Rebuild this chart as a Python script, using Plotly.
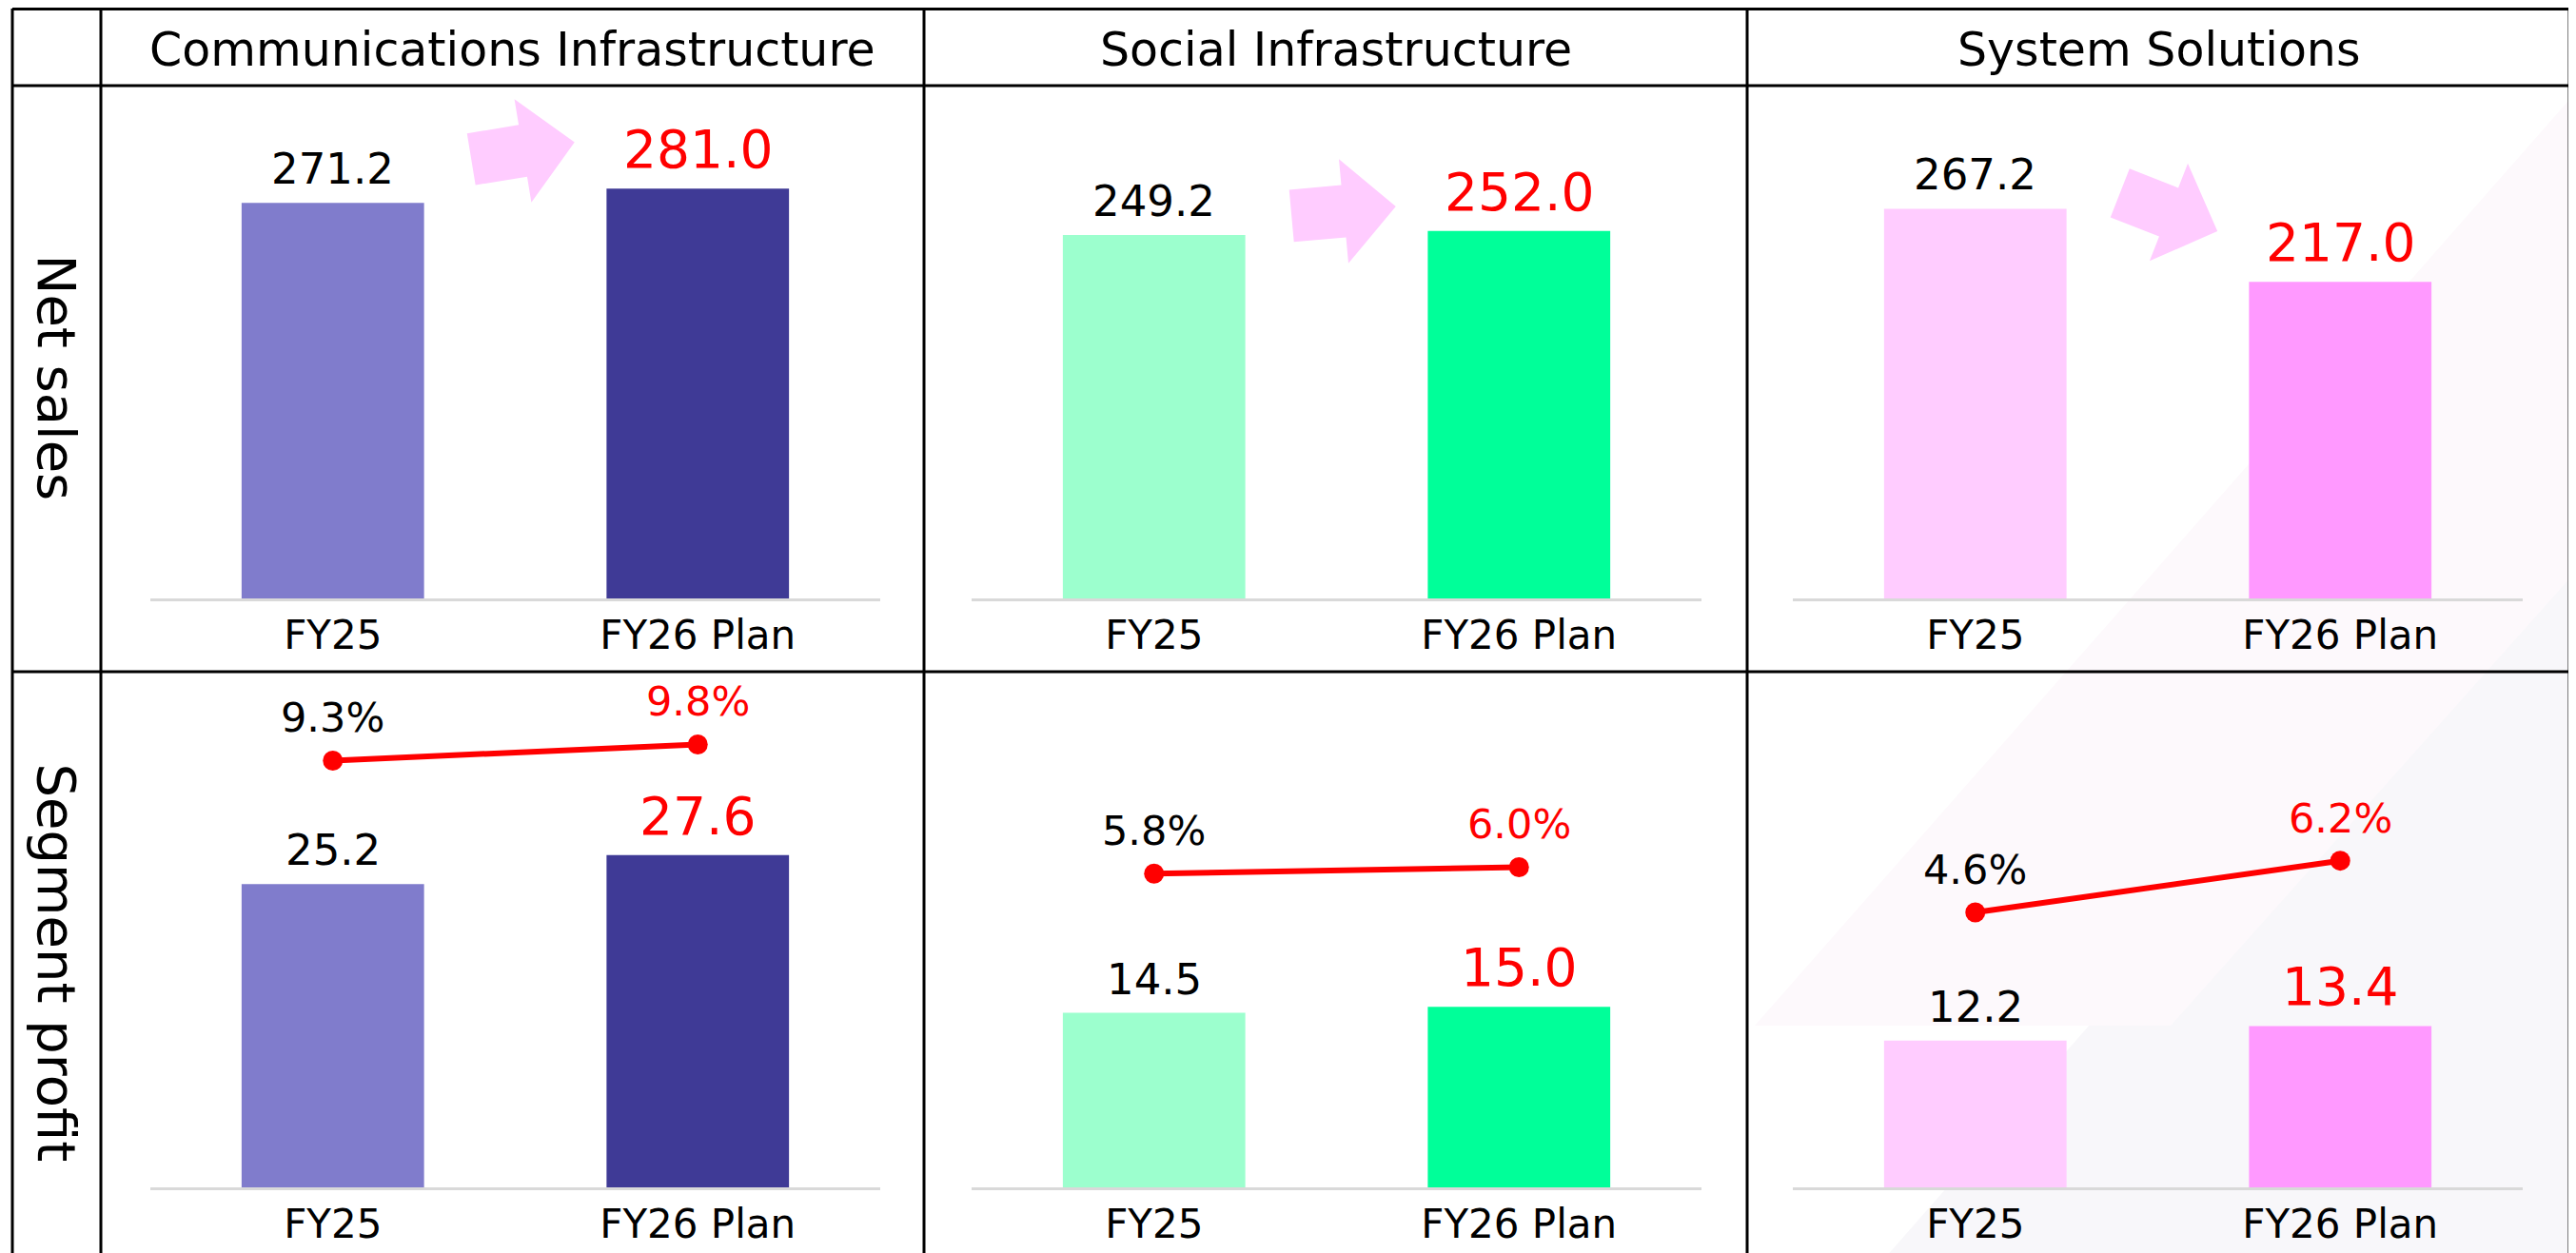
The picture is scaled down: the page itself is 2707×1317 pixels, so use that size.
import math
import plotly.graph_objects as go

# ---------------- data ----------------
segments = ["Communications Infrastructure", "Social Infrastructure", "System Solutions"]
periods = ["FY25", "FY26 Plan"]
row_labels = ["Net sales", "Segment profit"]

net_sales_comm = [271.2, 281.0]
net_sales_social = [249.2, 252.0]
net_sales_system = [267.2, 217.0]

profit_comm = [25.2, 27.6]
profit_social = [14.5, 15.0]
profit_system = [12.2, 13.4]

margin_comm = [9.3, 9.8]
margin_social = [5.8, 6.0]
margin_system = [4.6, 6.2]

net_sales = [net_sales_comm, net_sales_social, net_sales_system]
profits = [profit_comm, profit_social, profit_system]
margins = [margin_comm, margin_social, margin_system]

# ---------------- style ----------------
W, H = 2707, 1317
OFF = 8  # page body margin of the host page
FONT = "DejaVu Sans"
RED = "#FF0000"
bar_colors = [["#807CCC", "#3F3A96"], ["#9CFFCE", "#00FF99"], ["#FFCCFF", "#FF99FF"]]
label_colors = ["black", RED]
label_sizes = [45, 55]
ARROW_COLOR = "#FFCCFF"


def px(x):
    return (x - OFF) / W


def py(y):
    return 1 - (y - OFF) / H


col_lines = [13, 106, 971, 1836, 2700]
row_lines = [9, 90, 706]
plot_x_px = [(158, 925), (1021, 1788), (1884, 2651)]
ns_y_px = (100, 629)
sp_y_px = (720, 1248)
NS_RANGE = [0, (ns_y_px[1] - ns_y_px[0]) / 1.533]
SP_RANGE = [0, (sp_y_px[1] - sp_y_px[0]) / 12.65]
PCT_RANGE = [-132.9 / 33.94, (sp_y_px[1] - sp_y_px[0] - 132.9) / 33.94]

# arrows: center (px), angle (deg, clockwise positive)
arrows = [(549.5, 158.5, -9.3), (1412, 222, -5.2), (2279, 223, 21.4)]


def ax_name(n, kind):
    return kind if n == 1 else f"{kind}{n}"


def layout_name(n, kind):
    return f"{kind}axis" if n == 1 else f"{kind}axis{n}"


fig = go.Figure()
layout_axes = {}
annotations = []

for i in range(3):
    xd = [px(plot_x_px[i][0]), px(plot_x_px[i][1])]
    for r, (vals, ydom, yr) in enumerate([(net_sales[i], ns_y_px, NS_RANGE),
                                          (profits[i], sp_y_px, SP_RANGE)]):
        n = i + 1 + 3 * r
        xa, ya = ax_name(n, "x"), ax_name(n, "y")
        fig.add_trace(go.Bar(
            x=periods, y=vals, xaxis=xa, yaxis=ya, width=0.5,
            marker=dict(color=bar_colors[i], line=dict(width=0)),
            hoverinfo="skip", showlegend=False))
        layout_axes[layout_name(n, "x")] = dict(
            domain=xd, anchor=ya, type="category", range=[-0.5, 1.5],
            showline=True, linecolor="#D9D9D9", linewidth=3,
            showgrid=False, zeroline=False, ticks="",
            tickfont=dict(family=FONT, size=42, color="black"), fixedrange=True)
        layout_axes[layout_name(n, "y")] = dict(
            domain=[py(ydom[1]), py(ydom[0])], anchor=xa, range=yr,
            visible=False, showgrid=False, zeroline=False, fixedrange=True)
        for j, v in enumerate(vals):
            annotations.append(dict(
                x=periods[j], y=v, xref=xa, yref=ya, text=f"{v:.1f}",
                showarrow=False, xanchor="center", yanchor="bottom", yshift=7,
                font=dict(family=FONT, size=label_sizes[j], color=label_colors[j])))

    # margin line on secondary axis of segment-profit panel
    n2 = 7 + i
    xa, ya2 = ax_name(4 + i, "x"), ax_name(n2, "y")
    fig.add_trace(go.Scatter(
        x=periods, y=margins[i], xaxis=xa, yaxis=ya2, mode="lines+markers",
        line=dict(color=RED, width=6), marker=dict(color=RED, size=21),
        hoverinfo="skip", showlegend=False))
    layout_axes[layout_name(n2, "y")] = dict(
        overlaying=ax_name(4 + i, "y"), anchor=xa, range=PCT_RANGE,
        visible=False, showgrid=False, zeroline=False, fixedrange=True)
    for j, v in enumerate(margins[i]):
        annotations.append(dict(
            x=periods[j], y=v, xref=xa, yref=ya2, text=f"{v:.1f}%",
            showarrow=False, xanchor="center", yanchor="bottom", yshift=18,
            font=dict(family=FONT, size=43, color=label_colors[j])))

# column headers
for i, s in enumerate(segments):
    annotations.append(dict(
        x=px((col_lines[i + 1] + col_lines[i + 2]) / 2), y=py(52), xref="paper", yref="paper",
        text=s, showarrow=False, xanchor="center", yanchor="middle",
        font=dict(family=FONT, size=49, color="black")))

# row labels
for r, (lab, yc) in enumerate(zip(row_labels, [397, 1012])):
    annotations.append(dict(
        x=px(59.5), y=py(yc), xref="paper", yref="paper", text=lab, textangle=90,
        showarrow=False, xanchor="center", yanchor="middle",
        font=dict(family=FONT, size=56, color="black")))

shapes = []
# faint decorative background bands
shapes.append(dict(type="path", xref="paper", yref="paper", layer="below",
                   path=f"M {px(1974)} {py(1330)} L {px(2720)} {py(480)} L {px(2720)} {py(1330)} Z",
                   fillcolor="#F8F7FA", line=dict(width=0)))
shapes.append(dict(type="path", xref="paper", yref="paper", layer="below",
                   path=f"M {px(1844)} {py(1078)} L {px(2720)} {py(82)} L {px(2720)} {py(586)} L {px(2281)} {py(1078)} Z",
                   fillcolor="#FDF9FC", line=dict(width=0)))


def arrow_path(cx, cy, ang, L=110, shaft_h=55, head_h=110, shaft_len=55):
    x0 = -L / 2
    xs = x0 + shaft_len
    pts = [(x0, -shaft_h / 2), (xs, -shaft_h / 2), (xs, -head_h / 2), (L / 2, 0),
           (xs, head_h / 2), (xs, shaft_h / 2), (x0, shaft_h / 2)]
    a = math.radians(ang)
    ca, sa = math.cos(a), math.sin(a)
    out = []
    for k, (x, y) in enumerate(pts):
        X = cx + x * ca - y * sa
        Y = cy + x * sa + y * ca
        out.append(("M" if k == 0 else "L") + f" {px(X):.5f} {py(Y):.5f}")
    return " ".join(out) + " Z"


for cx, cy, ang in arrows:
    shapes.append(dict(type="path", xref="paper", yref="paper", layer="above",
                       path=arrow_path(cx, cy, ang), fillcolor=ARROW_COLOR, line=dict(width=0)))

# table grid
for k, yy in enumerate(row_lines):
    shapes.append(dict(type="line", xref="paper", yref="paper", layer="above",
                       x0=px(col_lines[0]), x1=px(col_lines[-1]), y0=py(yy), y1=py(yy),
                       line=dict(color="black", width=4 if k == 0 else 3)))
for xx in col_lines:
    shapes.append(dict(type="line", xref="paper", yref="paper", layer="above",
                       x0=px(xx), x1=px(xx), y0=py(row_lines[0]), y1=py(H + OFF + 10),
                       line=dict(color="black", width=3)))

fig.update_layout(
    width=W, height=H, margin=dict(l=0, r=0, t=0, b=0), autosize=False,
    paper_bgcolor="white", plot_bgcolor="rgba(0,0,0,0)", showlegend=False,
    font=dict(family=FONT, color="black"), bargap=0.5,
    annotations=annotations, shapes=shapes, **layout_axes)

fig.write_html("out.html", config={"displayModeBar": False})
